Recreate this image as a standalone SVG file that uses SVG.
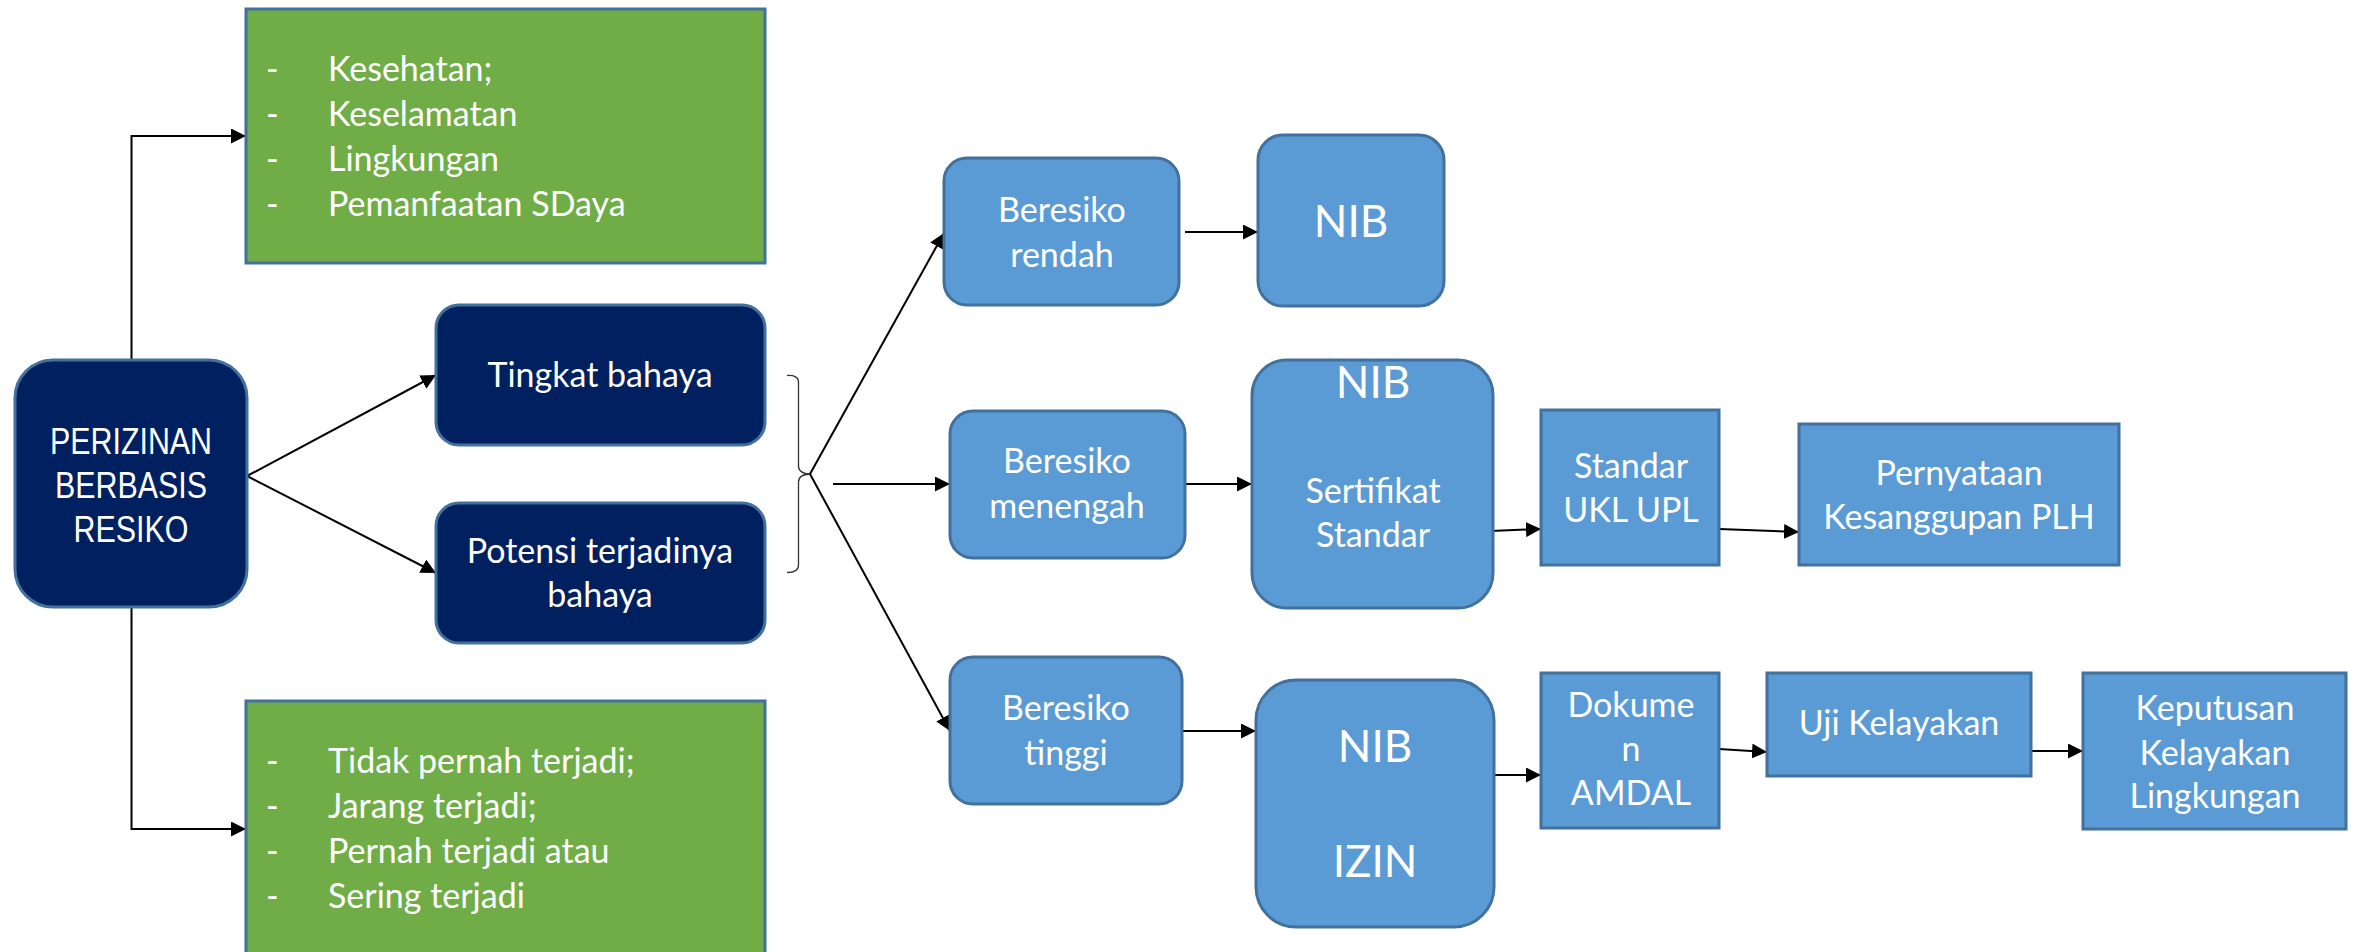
<svg xmlns="http://www.w3.org/2000/svg" width="2357" height="952" viewBox="0 0 2357 952">
<style>
.navy{fill:#002060;stroke:#41719C;stroke-width:3}
.green{fill:#70AD47;stroke:#41719C;stroke-width:3}
.blue{fill:#5B9BD5;stroke:#41719C;stroke-width:3}
.t{font-family:Lato,"Open Sans","Liberation Sans",sans-serif;fill:#FFFFFF;font-size:34px}
.tc{font-family:Lato,"Open Sans","Liberation Sans",sans-serif;fill:#FFFFFF;font-size:34px;text-anchor:middle}
.big{font-family:Lato,"Open Sans","Liberation Sans",sans-serif;fill:#FFFFFF;font-size:44px;text-anchor:middle}
.arial{font-family:"Liberation Sans",Arial,sans-serif;fill:#FFFFFF;font-size:37px;text-anchor:middle}
.arr{fill:none;stroke:#000;stroke-width:2;marker-end:url(#ah)}
.brace{fill:none;stroke:#333;stroke-width:1.3}
</style>
<defs>
<marker id="ah" viewBox="0 0 15 15" refX="15" refY="7.5" markerWidth="15" markerHeight="15" markerUnits="userSpaceOnUse" orient="auto">
<path d="M0,0 L15,7.5 L0,15 Z" fill="#000"/>
</marker>
</defs>
<rect width="2357" height="952" fill="#FFFFFF"/>

<g id="connectors">
<path class="arr" d="M131.5,360 V136 H246"/>
<path class="arr" d="M131.5,607 V829 H246"/>
<path class="arr" d="M247,476 L436,375"/>
<path class="arr" d="M247,476 L436,573"/>
<path class="brace" d="M787,375.5 Q798.5,375 798.5,382 V466 Q798.5,473.5 810,474 Q798.5,474.5 798.5,482 V565 Q798.5,572.5 787,572.5"/>
<path class="arr" d="M810,474 L944,233"/>
<path class="arr" d="M833,484 L950,484"/>
<path class="arr" d="M810,474 L950,731"/>
<path class="arr" d="M1185,232 L1258,232"/>
<path class="arr" d="M1185,484 L1252,484"/>
<path class="arr" d="M1443,533 L1541,529"/>
<path class="arr" d="M1719,529 L1799,532"/>
<path class="arr" d="M1182,731 L1256,731"/>
<path class="arr" d="M1493,775 L1541,775"/>
<path class="arr" d="M1719,749 L1767,752"/>
<path class="arr" d="M2031,751 L2083,751"/>
</g>

<g id="perizinan">
<rect class="navy" x="15" y="360" width="232" height="247" rx="38"/>
<text class="arial" x="131" y="454" textLength="162" lengthAdjust="spacingAndGlyphs">PERIZINAN</text>
<text class="arial" x="131" y="498" textLength="152" lengthAdjust="spacingAndGlyphs">BERBASIS</text>
<text class="arial" x="131" y="542" textLength="115" lengthAdjust="spacingAndGlyphs">RESIKO</text>
</g>

<g id="aspek">
<rect class="green" x="246" y="9" width="519" height="254"/>
<text class="t" x="266" y="81">-</text><text class="t" x="328" y="81">Kesehatan;</text>
<text class="t" x="266" y="126">-</text><text class="t" x="328" y="126">Keselamatan</text>
<text class="t" x="266" y="171">-</text><text class="t" x="328" y="171">Lingkungan</text>
<text class="t" x="266" y="216">-</text><text class="t" x="328" y="216">Pemanfaatan SDaya</text>
</g>

<g id="frekuensi">
<rect class="green" x="246" y="701" width="519" height="275"/>
<text class="t" x="266" y="773">-</text><text class="t" x="328" y="773">Tidak pernah terjadi;</text>
<text class="t" x="266" y="818">-</text><text class="t" x="328" y="818">Jarang terjadi;</text>
<text class="t" x="266" y="863">-</text><text class="t" x="328" y="863">Pernah terjadi atau</text>
<text class="t" x="266" y="908">-</text><text class="t" x="328" y="908">Sering terjadi</text>
</g>

<g id="tingkat">
<rect class="navy" x="436" y="305" width="329" height="140" rx="23"/>
<text class="tc" x="600" y="387">Tingkat bahaya</text>
</g>

<g id="potensi">
<rect class="navy" x="436" y="503" width="329" height="140" rx="23"/>
<text class="tc" x="600" y="563">Potensi terjadinya</text>
<text class="tc" x="600" y="607">bahaya</text>
</g>

<g id="rendah">
<rect class="blue" x="944" y="158" width="235" height="147" rx="23"/>
<text class="tc" x="1062" y="222">Beresiko</text>
<text class="tc" x="1062" y="267">rendah</text>
</g>

<g id="nib1">
<rect class="blue" x="1258" y="135" width="186" height="171" rx="25"/>
<text class="big" x="1351" y="237">NIB</text>
</g>

<g id="menengah">
<rect class="blue" x="950" y="411" width="235" height="147" rx="23"/>
<text class="tc" x="1067" y="473">Beresiko</text>
<text class="tc" x="1067" y="518">menengah</text>
</g>

<g id="nib2">
<rect class="blue" x="1252" y="360" width="241" height="248" rx="35"/>
<text class="big" x="1373" y="398">NIB</text>
<text class="tc" x="1373" y="503">Sertifikat</text>
<text class="tc" x="1373" y="547">Standar</text>
</g>

<g id="ukl">
<rect class="blue" x="1541" y="410" width="178" height="155"/>
<text class="tc" x="1631" y="478">Standar</text>
<text class="tc" x="1631" y="522">UKL UPL</text>
</g>

<g id="pernyataan">
<rect class="blue" x="1799" y="424" width="320" height="141"/>
<text class="tc" x="1959" y="485">Pernyataan</text>
<text class="tc" x="1959" y="529">Kesanggupan PLH</text>
</g>

<g id="tinggi">
<rect class="blue" x="950" y="657" width="232" height="147" rx="23"/>
<text class="tc" x="1066" y="720">Beresiko</text>
<text class="tc" x="1066" y="765">tinggi</text>
</g>

<g id="nibizin">
<rect class="blue" x="1256" y="680" width="238" height="247" rx="40"/>
<text class="big" x="1375" y="762">NIB</text>
<text class="big" x="1375" y="877">IZIN</text>
</g>

<g id="dokumen">
<rect class="blue" x="1541" y="673" width="178" height="155"/>
<text class="tc" x="1631" y="717">Dokume</text>
<text class="tc" x="1631" y="761">n</text>
<text class="tc" x="1631" y="805">AMDAL</text>
</g>

<g id="uji">
<rect class="blue" x="1767" y="673" width="264" height="103"/>
<text class="tc" x="1899" y="735">Uji Kelayakan</text>
</g>

<g id="keputusan">
<rect class="blue" x="2083" y="673" width="263" height="156"/>
<text class="tc" x="2215" y="720">Keputusan</text>
<text class="tc" x="2215" y="765">Kelayakan</text>
<text class="tc" x="2215" y="808">Lingkungan</text>
</g>
</svg>
